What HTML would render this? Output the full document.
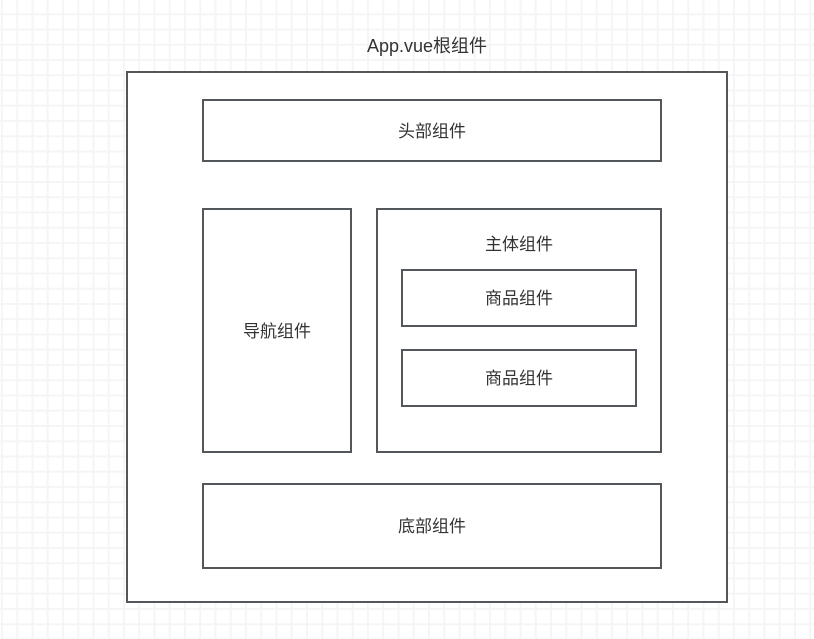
<!DOCTYPE html>
<html><head><meta charset="utf-8"><style>
body{margin:0;width:814px;height:639px;overflow:hidden;background:#fff;
background-image:linear-gradient(to right,#f5f5f5 2px,transparent 2px),linear-gradient(to bottom,#f5f5f5 2px,transparent 2px);
background-size:15.25px 15.25px;background-position:1px -2px;
font-family:"Liberation Sans","Noto Sans CJK SC",sans-serif;color:#333;font-size:17px;position:relative}
.b{position:absolute;border:2px solid #53575c;background:#fff;box-sizing:border-box;display:flex;align-items:center;justify-content:center;padding-bottom:3px}
.t{position:absolute}
</style></head><body>
<div class="t" style="left:0;width:854px;top:32px;text-align:center;font-size:18px">App.vue根组件</div>
<div class="b" style="left:126px;top:71px;width:602px;height:532px"></div>
<div class="b" style="left:202px;top:99px;width:460px;height:63px">头部组件</div>
<div class="b" style="left:202px;top:208px;width:150px;height:245px">导航组件</div>
<div class="b" style="left:376px;top:208px;width:286px;height:245px;align-items:flex-start;padding-top:20px">主体组件</div>
<div class="b" style="left:401px;top:269px;width:236px;height:58px">商品组件</div>
<div class="b" style="left:401px;top:349px;width:236px;height:58px">商品组件</div>
<div class="b" style="left:202px;top:483px;width:460px;height:86px">底部组件</div>
</body></html>
